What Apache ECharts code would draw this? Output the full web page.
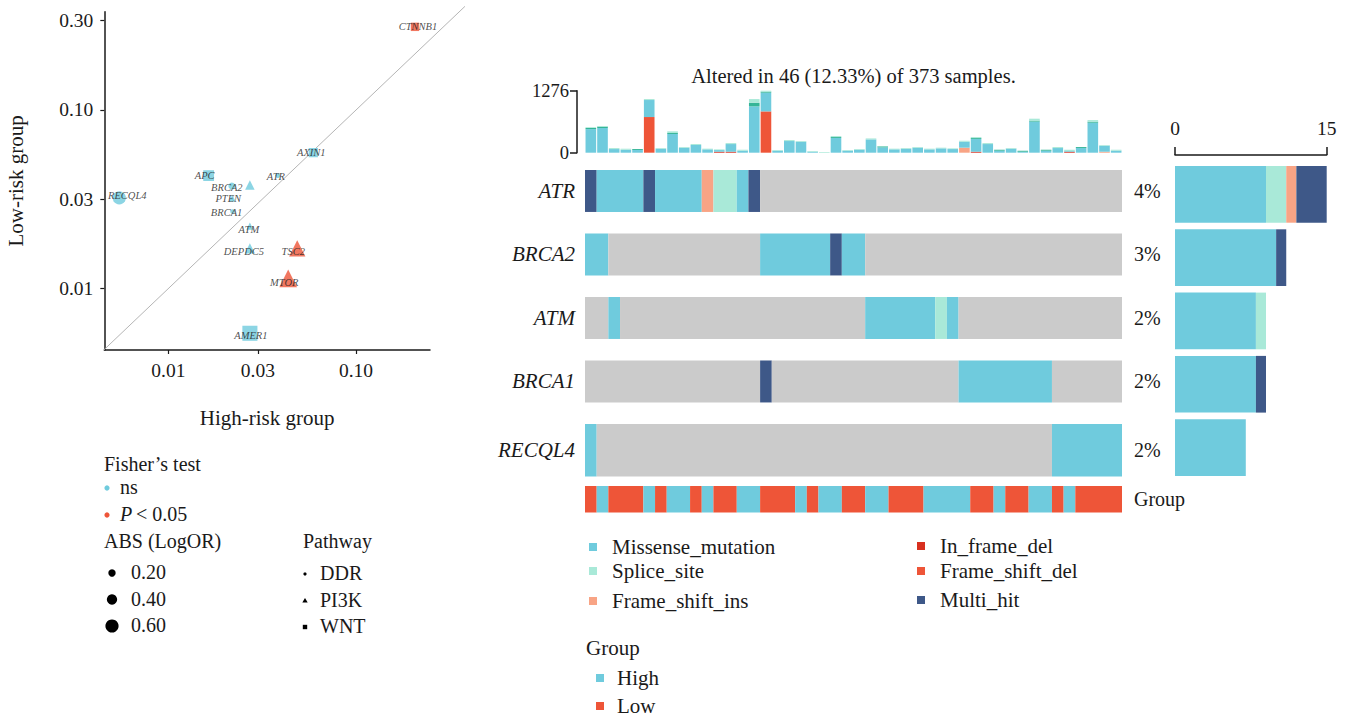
<!DOCTYPE html>
<html>
<head>
<meta charset="utf-8">
<title>Mutation landscape by risk group</title>
<script src="https://cdn.jsdelivr.net/npm/echarts@6/dist/echarts.min.js"></script>
<style>
  html, body { margin: 0; padding: 0; background: #ffffff; }
  #main { width: 1345px; height: 720px; }
</style>
</head>
<body>
<div id="main"></div>
<script>
// ---------------- Scatter: mutation frequency, high- vs low-risk group ----------------
const geneNames = ['CTNNB1', 'AXIN1', 'ATR', 'APC', 'BRCA2', '', 'PTEN', 'BRCA1', 'ATM', 'DEPDC5', 'TSC2', 'MTOR', 'AMER1', 'RECQL4'];
const highFreq  = [0.206, 0.0592, 0.0383, 0.0164, 0.0218, 0.0272, 0.0219, 0.0220, 0.0272, 0.0272, 0.0486, 0.0435, 0.0272, 0.00548];
const lowFreq   = [0.292, 0.0577, 0.0429, 0.0429, 0.0375, 0.0380, 0.0321, 0.0270, 0.0224, 0.0168, 0.0168, 0.0114, 0.00562, 0.0322];
const pathway   = ['WNT', 'WNT', 'DDR', 'WNT', 'DDR', 'PI3K', 'PI3K', 'DDR', 'PI3K', 'PI3K', 'PI3K', 'PI3K', 'WNT', 'DDR'];
const fisherSig = [1, 0, 0, 0, 0, 0, 0, 0, 0, 0, 1, 1, 0, 0];
const absLogOR  = [0.18, 0.23, 0.02, 0.32, 0.17, 0.15, 0.02, 0.01, 0.04, 0.19, 0.48, 0.55, 0.57, 0.60];

const xRange = [0.00456, 0.2477];
const yRange = [0.00453, 0.355];
const xTickValues = [0.01, 0.03, 0.10];
const xTickLabels = ['0.01', '0.03', '0.10'];
const yTickValues = [0.01, 0.0316, 0.10, 0.316];
const yTickLabels = ['0.01', '0.03', '0.10', '0.30'];
const sizeLegendValues = [0.20, 0.40, 0.60];
const pathwayNames = ['DDR', 'PI3K', 'WNT'];

// ---------------- Oncoplot ----------------
const totalSamples = 373;
const sampleCount = 46;
const rowNames = ['ATR', 'BRCA2', 'ATM', 'BRCA1', 'RECQL4', 'Group'];
const variantNames = ['Missense_mutation', 'Splice_site', 'Frame_shift_ins', 'In_frame_del', 'Frame_shift_del', 'Multi_hit'];
// variant codes: 0 none, 1 Missense, 2 Splice, 3 FS ins, 4 In-frame del, 5 FS del, 6 Multi-hit
const atrCodes    = [6,1,1,1,1,6,1,1,1,1,3,2,2,1,6,0,0,0,0,0,0,0,0,0,0,0,0,0,0,0,0,0,0,0,0,0,0,0,0,0,0,0,0,0,0,0];
const brca2Codes  = [1,1,0,0,0,0,0,0,0,0,0,0,0,0,0,1,1,1,1,1,1,6,1,1,0,0,0,0,0,0,0,0,0,0,0,0,0,0,0,0,0,0,0,0,0,0];
const atmCodes    = [0,0,1,0,0,0,0,0,0,0,0,0,0,0,0,0,0,0,0,0,0,0,0,0,1,1,1,1,1,1,2,1,0,0,0,0,0,0,0,0,0,0,0,0,0,0];
const brca1Codes  = [0,0,0,0,0,0,0,0,0,0,0,0,0,0,0,6,0,0,0,0,0,0,0,0,0,0,0,0,0,0,0,0,1,1,1,1,1,1,1,1,0,0,0,0,0,0];
const recql4Codes = [1,0,0,0,0,0,0,0,0,0,0,0,0,0,0,0,0,0,0,0,0,0,0,0,0,0,0,0,0,0,0,0,0,0,0,0,0,0,0,0,1,1,1,1,1,1];
const groupCodes  = ['L','H','L','L','L','H','L','H','H','L','H','L','L','H','H','L','L','L','H','L','H','H','L','L','H','H','L','L','L','H','H','H','H','L','L','H','L','L','H','H','L','H','L','L','L','L'];

// per-sample mutation burden (top bar), by classification
const tmbFrameShiftDel = [0,0,0,0,0,734,0,0,0,0,0,0,0,0,0,850,0,0,0,0,0,0,0,0,0,0,0,0,0,0,0,0,0,0,0,0,0,0,0,0,0,0,0,0,0,0];
const tmbInFrameDel    = [0,0,0,0,0,0,0,0,0,0,0,20,20,0,0,0,0,0,0,0,0,0,0,0,0,0,0,0,0,0,0,0,0,20,0,0,0,0,0,0,0,20,0,0,0,0];
const tmbFrameShiftIns = [0,0,0,0,0,0,0,0,0,0,0,0,0,0,0,0,0,0,0,0,0,0,0,0,0,0,0,0,0,0,0,0,103,0,0,0,0,0,0,0,0,0,0,0,20,0];
const tmbMissense      = [485,508,75,62,55,350,82,385,103,158,69,34,158,41,954,385,41,240,226,20,0,302,41,62,274,110,69,82,103,69,89,75,123,261,178,41,82,20,640,41,96,14,96,617,123,41];
const tmbNonsense      = [25,27,0,0,20,0,0,20,0,0,0,0,0,0,75,20,0,0,0,0,0,20,0,0,0,20,0,0,0,0,0,0,0,20,0,20,0,20,20,20,0,0,20,20,0,0];
const tmbSplice        = [15,14,20,20,0,20,14,35,14,20,14,14,20,20,75,21,14,20,14,14,14,20,14,14,20,7,14,14,14,14,14,14,20,20,20,0,14,0,40,0,20,27,0,34,14,20];
const tmbAxisTicks = [0, 1276];
const rightAxisTicks = [0, 15];

// ---------------- colours ----------------
const C = {
  missense: '#6fcbdd', splice: '#a9e9d8', fsIns: '#f8a485', inDel: '#d8301f',
  fsDel: '#ee5538', multi: '#3e5888', nonsense: '#35b597', none: '#cbcbcb',
  high: '#6fcbdd', low: '#ee5538', ns: '#6fcbdd', sig: '#ee5538'
};
const codeColor = [C.none, C.missense, C.splice, C.fsIns, C.inDel, C.fsDel, C.multi];
const variantColor = [C.missense, C.splice, C.fsIns, C.inDel, C.fsDel, C.multi];

const SERIF = "'Liberation Serif', 'DejaVu Serif', serif";
const TXT = '#1a1a1a';

// ---------------- derived structures ----------------
const geneCodeRows = [atrCodes, brca2Codes, atmCodes, brca1Codes, recql4Codes];
const geneRows = rowNames.slice(0, 5);
const altered = new Set();
geneCodeRows.forEach(r => r.forEach((c, i) => { if (c) altered.add(i); }));
const alteredPct = (altered.size / totalSamples * 100).toFixed(2);

// merge consecutive samples sharing one code into a single run: [first, last, row, code]
function toRuns(codes, row) {
  const out = [];
  let start = 0;
  for (let i = 1; i <= codes.length; i++) {
    if (i === codes.length || codes[i] !== codes[start]) {
      out.push([start, i - 1, row, codes[start]]);
      start = i;
    }
  }
  return out;
}
let cellRuns = [];
geneCodeRows.forEach((row, r) => { cellRuns = cellRuns.concat(toRuns(row, r)); });
cellRuns = cellRuns.concat(toRuns(groupCodes.map(g => (g === 'H' ? 7 : 8)), 5));

// cell vertical extent, as fractions of the row band
const cellTopFrac = [-0.331, -0.331, -0.331, -0.331, -0.331, -0.354];
const cellHFrac   = [0.661, 0.661, 0.661, 0.661, 0.827, 0.417];

function cellFill(code) {
  if (code === 7) return C.high;
  if (code === 8) return C.low;
  return codeColor[code];
}

// per-gene counts of each variant class for the side bars
const sideCounts = variantNames.map((_, v) => geneCodeRows.map(row => row.filter(c => c === v + 1).length));
const rowTotals = geneCodeRows.map(row => row.filter(c => c).length);

// point size from |log OR|
function dotSize(v) { return 4.5 + 14.5 * v; }
const shapeOf = { DDR: 'circle', PI3K: 'triangle', WNT: 'rect' };
const shapeScale = { DDR: 1, PI3K: 1.42, WNT: 1.18 };
const labelOffset = {
  CTNNB1: [3, 0], AXIN1: [-2, 0], ATR: [-2, 1], APC: [-4, 0], BRCA2: [-5, 1], PTEN: [-4, 0],
  BRCA1: [-6, 1], ATM: [-1, 3], DEPDC5: [-6, 3], TSC2: [-4, 3], MTOR: [-4, 4], AMER1: [1, 2], RECQL4: [8, -2]
};

const L10 = Math.log10;
const scatterData = geneNames.map((g, i) => ({
  name: g,
  value: [L10(highFreq[i]), L10(lowFreq[i])],
  symbol: shapeOf[pathway[i]],
  symbolSize: dotSize(absLogOR[i]) * shapeScale[pathway[i]],
  itemStyle: { color: fisherSig[i] ? C.sig : C.ns },
  label: { offset: labelOffset[g] || [0, 0] }
}));

function tickFormatter(values, labels) {
  return function (v) {
    let best = 0, d = Infinity;
    values.forEach((t, i) => { const e = Math.abs(L10(t) - v); if (e < d) { d = e; best = i; } });
    return labels[best];
  };
}

// identity reference line (equal frequency in both groups), in log10 units
const diagLo = L10(Math.min(xRange[0], yRange[0]));
const diagHi = -0.42;

// ---------------- legends (drawn as graphic elements) ----------------
const graphics = [];
function gText(x, y, text, opt) {
  opt = opt || {};
  graphics.push({
    type: 'text', x: x, y: y, silent: true,
    style: {
      text: text, fill: TXT,
      font: (opt.italic ? 'italic ' : '') + (opt.size || 20) + 'px ' + SERIF,
      textAlign: opt.align || 'left', textVerticalAlign: 'middle',
      align: opt.align || 'left', verticalAlign: 'middle'
    }
  });
}
// Fisher's test legend
gText(104, 464, 'Fisher’s test');
graphics.push({ type: 'circle', shape: { cx: 107, cy: 488, r: 2.6 }, style: { fill: C.ns }, silent: true });
gText(120, 487, 'ns');
graphics.push({ type: 'circle', shape: { cx: 107, cy: 515, r: 2.6 }, style: { fill: C.sig }, silent: true });
gText(120, 514, 'P', { italic: true });
gText(136, 514, '< 0.05');
// size legend
gText(104, 541, 'ABS (LogOR)');
sizeLegendValues.forEach((v, i) => {
  const y = 573 + i * 26.5;
  graphics.push({ type: 'circle', shape: { cx: 112, cy: y, r: dotSize(v) / 2 }, style: { fill: '#000' }, silent: true });
  gText(131, y - 1, v.toFixed(2));
});
// pathway legend
gText(303, 541, 'Pathway');
pathwayNames.forEach((p, i) => {
  const y = 574 + i * 26.5;
  if (p === 'DDR') graphics.push({ type: 'circle', shape: { cx: 305, cy: y, r: 1.6 }, style: { fill: '#000' }, silent: true });
  if (p === 'PI3K') graphics.push({ type: 'polygon', shape: { points: [[305, y - 2.5], [302.3, y + 2], [307.7, y + 2]] }, style: { fill: '#000' }, silent: true });
  if (p === 'WNT') graphics.push({ type: 'rect', shape: { x: 302.8, y: y - 2.2, width: 4.4, height: 4.4 }, style: { fill: '#000' }, silent: true });
  gText(320, y - 1, p);
});
// oncoplot variant legend
const legendCols = [[0, 1, 2], [3, 4, 5]];
const legendColX = [589, 917];
const legendRowY = [[547, 571, 601], [546, 571, 600]];
legendCols.forEach((col, ci) => col.forEach((v, ri) => {
  const y = legendRowY[ci][ri];
  graphics.push({ type: 'rect', shape: { x: legendColX[ci], y: y - 4, width: 8, height: 8 }, style: { fill: variantColor[v] }, silent: true });
  gText(legendColX[ci] + 23, y, variantNames[v], { size: 21 });
}));
// group legend
gText(586, 648, 'Group', { size: 21 });
[['High', C.high, 678], ['Low', C.low, 706]].forEach(([t, col, y]) => {
  graphics.push({ type: 'rect', shape: { x: 596, y: y - 4, width: 8, height: 8 }, style: { fill: col }, silent: true });
  gText(617, y, t, { size: 21 });
});
// oncoplot title
gText(853.5, 76, 'Altered in ' + altered.size + ' (' + alteredPct + '%) of ' + totalSamples + ' samples.', { size: 20.5, align: 'center' });

// ---------------- chart ----------------
const chart = echarts.init(document.getElementById('main'), null, { renderer: 'svg' });
const samples = Array.from({ length: sampleCount }, (_, i) => 'S' + (i + 1));

const topBarSeries = [
  ['Frame_shift_del', tmbFrameShiftDel, C.fsDel],
  ['In_frame_del', tmbInFrameDel, C.inDel],
  ['Frame_shift_ins', tmbFrameShiftIns, C.fsIns],
  ['Missense_mutation', tmbMissense, C.missense],
  ['Nonsense_mutation', tmbNonsense, C.nonsense],
  ['Splice_site', tmbSplice, C.splice]
].map(([name, data, color]) => ({
  type: 'bar', name: name, xAxisIndex: 1, yAxisIndex: 1, stack: 'tmb',
  data: data, barCategoryGap: '9%', itemStyle: { color: color }, silent: true
}));

const sideBarSeries = variantNames.map((name, v) => ({
  type: 'bar', name: name, xAxisIndex: 3, yAxisIndex: 3, stack: 'side',
  data: sideCounts[v], barWidth: 56.7, itemStyle: { color: variantColor[v] }, silent: true
}));

const axisFont = { fontFamily: SERIF, color: TXT };
const plainNumber = v => String(Math.round(v));

chart.setOption({
  animation: false,
  backgroundColor: '#ffffff',
  textStyle: { fontFamily: SERIF },
  graphic: graphics,
  grid: [
    { left: 104.3, top: 11.7, width: 325.7, height: 338.3 },
    { left: 585, top: 90.7, width: 537, height: 62 },
    { left: 585, top: 159.25, width: 537, height: 381 },
    { left: 1175, top: 162.7, width: 151.7, height: 316.5 }
  ],
  xAxis: [
    {
      type: 'value', gridIndex: 0, min: L10(xRange[0]), max: L10(xRange[1]),
      name: 'High-risk group', nameLocation: 'middle', nameGap: 57,
      nameTextStyle: Object.assign({ fontSize: 21 }, axisFont),
      axisLine: { show: true, lineStyle: { color: '#1a1a1a', width: 1.5 } },
      axisTick: { show: true, length: 4, lineStyle: { color: '#1a1a1a', width: 1.2 }, customValues: xTickValues.map(L10) },
      axisLabel: Object.assign({ fontSize: 19.5, margin: 10, customValues: xTickValues.map(L10), formatter: tickFormatter(xTickValues, xTickLabels) }, axisFont),
      splitLine: { show: false }
    },
    { type: 'category', gridIndex: 1, data: samples, show: false },
    { type: 'category', gridIndex: 2, data: samples, show: false },
    {
      type: 'value', gridIndex: 3, position: 'top', min: rightAxisTicks[0], max: rightAxisTicks[1],
      interval: rightAxisTicks[1] - rightAxisTicks[0], offset: 7.7,
      axisLine: { show: true, lineStyle: { color: '#1a1a1a', width: 1.5 } },
      axisTick: { show: true, length: 8, lineStyle: { color: '#1a1a1a', width: 1.5 } },
      axisLabel: Object.assign({ fontSize: 19.5, margin: 17, formatter: plainNumber }, axisFont),
      splitLine: { show: false }
    }
  ],
  yAxis: [
    {
      type: 'value', gridIndex: 0, min: L10(yRange[0]), max: L10(yRange[1]),
      name: 'Low-risk group', nameLocation: 'middle', nameGap: 78, nameRotate: 90,
      nameTextStyle: Object.assign({ fontSize: 21 }, axisFont),
      axisLine: { show: true, lineStyle: { color: '#1a1a1a', width: 1.5 } },
      axisTick: { show: true, length: 4, lineStyle: { color: '#1a1a1a', width: 1.2 }, customValues: yTickValues.map(L10) },
      axisLabel: Object.assign({ fontSize: 19.5, margin: 11, customValues: yTickValues.map(L10), formatter: tickFormatter(yTickValues, yTickLabels) }, axisFont),
      splitLine: { show: false }
    },
    {
      type: 'value', gridIndex: 1, min: tmbAxisTicks[0], max: tmbAxisTicks[1],
      interval: tmbAxisTicks[1] - tmbAxisTicks[0], offset: 8,
      axisLine: { show: true, lineStyle: { color: '#1a1a1a', width: 1.5 } },
      axisTick: { show: true, length: 7, lineStyle: { color: '#1a1a1a', width: 1.5 } },
      axisLabel: Object.assign({ fontSize: 18.5, margin: 8, formatter: plainNumber }, axisFont),
      splitLine: { show: false }
    },
    { type: 'category', gridIndex: 2, data: rowNames, inverse: true, show: false },
    { type: 'category', gridIndex: 3, data: geneRows, inverse: true, show: false }
  ],
  series: [
    {
      // y = x reference line, allowed to run past the plot frame
      type: 'custom', xAxisIndex: 0, yAxisIndex: 0, silent: true, clip: false, z: 1,
      data: [[diagLo, diagHi]],
      renderItem: function (params, api) {
        const a = api.coord([api.value(0), api.value(0)]);
        const b = api.coord([api.value(1), api.value(1)]);
        return {
          type: 'line',
          shape: { x1: a[0], y1: a[1], x2: b[0], y2: b[1] },
          style: { stroke: '#b5b5b5', lineWidth: 1 }
        };
      }
    },
    {
      type: 'scatter', xAxisIndex: 0, yAxisIndex: 0, silent: true, z: 3,
      data: scatterData,
      label: {
        show: true, position: 'inside', formatter: '{b}',
        fontFamily: SERIF, fontStyle: 'italic', fontSize: 10.5, color: '#222'
      }
    }
  ].concat(topBarSeries).concat([
    {
      type: 'custom', xAxisIndex: 2, yAxisIndex: 2, silent: true,
      data: cellRuns,
      encode: { x: [0, 1], y: 2 },
      renderItem: function (params, api) {
        const s0 = api.value(0), s1 = api.value(1), r = api.value(2), code = api.value(3);
        const c0 = api.coord([s0, r]);
        const c1 = api.coord([s1, r]);
        const bw = api.size([1, 0])[0];
        const bh = api.size([0, 1])[1];
        return {
          type: 'rect',
          shape: { x: c0[0] - bw / 2, y: c0[1] + bh * cellTopFrac[r], width: c1[0] - c0[0] + bw, height: bh * cellHFrac[r] },
          style: { fill: cellFill(code) }
        };
      }
    },
    {
      type: 'custom', xAxisIndex: 2, yAxisIndex: 2, silent: true,
      data: rowNames.map((_, r) => [0, r]),
      encode: { x: 0, y: 1 },
      renderItem: function (params, api) {
        const r = api.value(1);
        const c = api.coord([0, r]);
        const bh = api.size([0, 1])[1];
        const yc = c[1] + bh * (cellTopFrac[r] + cellHFrac[r] / 2);
        const left = params.coordSys.x, right = params.coordSys.x + params.coordSys.width;
        const kids = [];
        if (r < 5) {
          kids.push({
            type: 'text', x: left - 10, y: yc,
            style: { text: rowNames[r], fill: TXT, font: 'italic 21px ' + SERIF, textAlign: 'right', textVerticalAlign: 'middle', align: 'right', verticalAlign: 'middle' }
          });
        }
        const rightText = r < 5 ? Math.round(rowTotals[r] / totalSamples * 100) + '%' : rowNames[r];
        kids.push({
          type: 'text', x: right + 12, y: yc,
          style: { text: rightText, fill: TXT, font: '20px ' + SERIF, textAlign: 'left', textVerticalAlign: 'middle', align: 'left', verticalAlign: 'middle' }
        });
        return { type: 'group', children: kids };
      }
    }
  ]).concat(sideBarSeries)
});
</script>
</body>
</html>
